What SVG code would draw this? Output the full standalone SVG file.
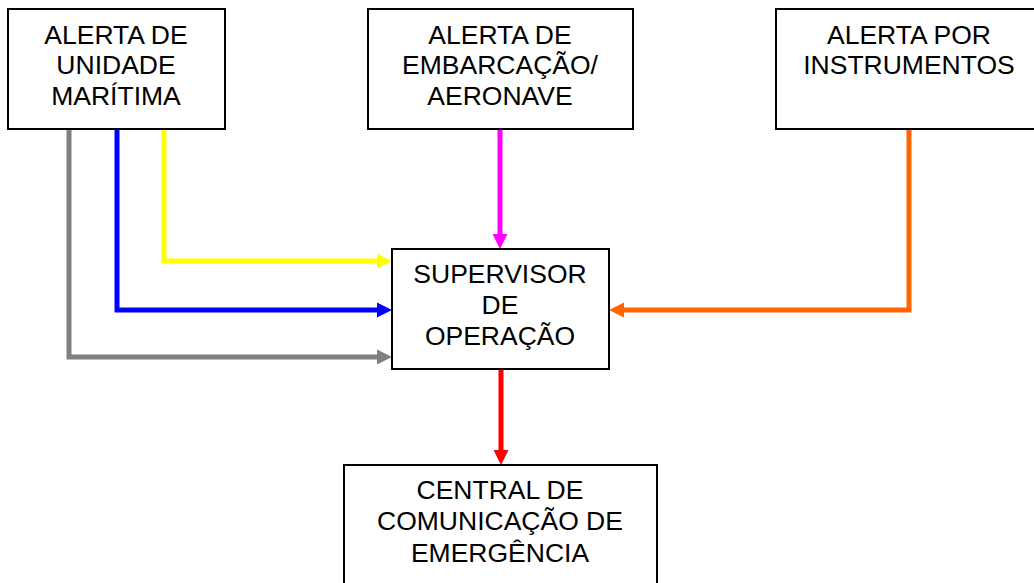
<svg xmlns="http://www.w3.org/2000/svg" width="1034" height="583" viewBox="0 0 1034 583">
<style>
.box{fill:#fff;stroke:#000;stroke-width:2}
.t{font-family:"Liberation Sans",Arial,sans-serif;font-size:26.5px;fill:#000;text-anchor:middle}
.c{fill:none;stroke-width:5;stroke-linejoin:miter}
</style>
<defs>
<marker id="aGray" markerUnits="userSpaceOnUse" markerWidth="16" markerHeight="16" viewBox="0 0 16 16" refX="0" refY="8" orient="auto"><path d="M0,0.5 L15,8 L0,15.5 z" fill="#808080"/></marker>
<marker id="aBlue" markerUnits="userSpaceOnUse" markerWidth="16" markerHeight="16" viewBox="0 0 16 16" refX="0" refY="8" orient="auto"><path d="M0,0.5 L15,8 L0,15.5 z" fill="#0000ff"/></marker>
<marker id="aYellow" markerUnits="userSpaceOnUse" markerWidth="16" markerHeight="16" viewBox="0 0 16 16" refX="0" refY="8" orient="auto"><path d="M0,0.5 L15,8 L0,15.5 z" fill="#ffff00"/></marker>
<marker id="aMagenta" markerUnits="userSpaceOnUse" markerWidth="16" markerHeight="16" viewBox="0 0 16 16" refX="0" refY="8" orient="auto"><path d="M0,0.5 L15,8 L0,15.5 z" fill="#ff00ff"/></marker>
<marker id="aOrange" markerUnits="userSpaceOnUse" markerWidth="16" markerHeight="16" viewBox="0 0 16 16" refX="0" refY="8" orient="auto"><path d="M0,0.5 L15,8 L0,15.5 z" fill="#ff6600"/></marker>
<marker id="aRed" markerUnits="userSpaceOnUse" markerWidth="16" markerHeight="16" viewBox="0 0 16 16" refX="0" refY="8" orient="auto"><path d="M0,0.5 L15,8 L0,15.5 z" fill="#ff0000"/></marker>
</defs>
<rect width="1034" height="583" fill="#fff"/>
<g id="connectors">
<path class="c" d="M69,130 V357 H377" stroke="#808080" marker-end="url(#aGray)"/>
<path class="c" d="M117,130 V310 H377" stroke="#0000ff" marker-end="url(#aBlue)"/>
<path class="c" d="M164,130 V261 H377" stroke="#ffff00" marker-end="url(#aYellow)"/>
<path class="c" d="M500,130 V234" stroke="#ff00ff" marker-end="url(#aMagenta)"/>
<path class="c" d="M909,130 V310 H624" stroke="#ff6600" marker-end="url(#aOrange)"/>
<path class="c" d="M501,370 V450" stroke="#ff0000" marker-end="url(#aRed)"/>
</g>
<g id="alerta-unidade">
<rect class="box" x="8" y="9" width="217" height="120"/>
<text class="t" x="116" y="44">ALERTA DE</text>
<text class="t" x="116" y="74">UNIDADE</text>
<text class="t" x="116" y="105">MARÍTIMA</text>
</g>
<g id="alerta-embarcacao">
<rect class="box" x="368" y="9" width="265" height="120"/>
<text class="t" x="500" y="44">ALERTA DE</text>
<text class="t" x="500" y="74">EMBARCAÇÃO/</text>
<text class="t" x="500" y="105">AERONAVE</text>
</g>
<g id="alerta-instrumentos">
<rect class="box" x="776" y="9" width="265" height="120"/>
<text class="t" x="909" y="44">ALERTA POR</text>
<text class="t" x="909" y="74">INSTRUMENTOS</text>
</g>
<g id="supervisor">
<rect class="box" x="392" y="249" width="217" height="120"/>
<text class="t" x="500" y="283">SUPERVISOR</text>
<text class="t" x="500" y="314">DE</text>
<text class="t" x="500" y="345">OPERAÇÃO</text>
</g>
<g id="central">
<rect class="box" x="344" y="465" width="313" height="130"/>
<text class="t" x="500" y="499">CENTRAL DE</text>
<text class="t" x="500" y="530">COMUNICAÇÃO DE</text>
<text class="t" x="500" y="562">EMERGÊNCIA</text>
</g>
</svg>
